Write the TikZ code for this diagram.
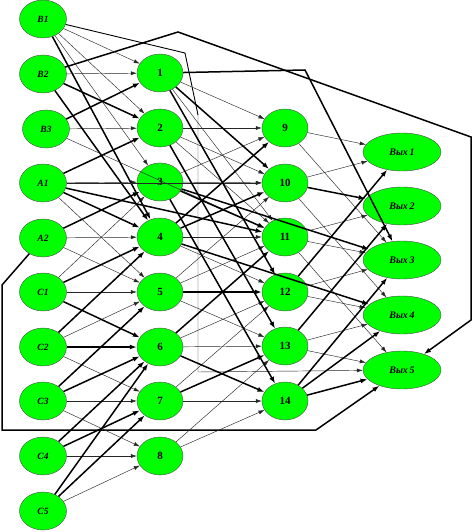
\documentclass[tikz,border=0pt]{standalone}
\usepackage{fontspec}
\setmainfont{Liberation Serif}
\usetikzlibrary{shapes.geometric,arrows.meta}
\begin{document}
\begin{tikzpicture}[x=1pt,y=-1pt,
  nd/.style={ellipse,draw=black!70,line width=0.4pt,fill=green,minimum width=47pt,minimum height=38pt,inner sep=0pt},
  od/.style={nd,minimum width=78pt},
  lt/.style={font=\itshape\bfseries\fontsize{9.5}{9.5}\selectfont},
  mt/.style={font=\bfseries\fontsize{11}{11}\selectfont},
  ot/.style={font=\itshape\bfseries\fontsize{10}{10}\selectfont},
  tn/.style={line width=0.45pt,draw=black!85,-{Latex[length=6pt,width=4pt]}},
  tk/.style={line width=1.5pt,-{Latex[length=7pt,width=5pt]}},
]
\useasboundingbox (0,0) rectangle (471,532);
% left column
\node[nd,lt] (L1) at (43,19) {В1};
\node[nd,lt] (L2) at (43,74) {В2};
\node[nd,lt] (L3) at (46,129) {В3};
\node[nd,lt] (L4) at (43,183) {А1};
\node[nd,lt] (L5) at (43,238) {А2};
\node[nd,lt] (L6) at (43,292) {С1};
\node[nd,lt] (L7) at (43,347) {С2};
\node[nd,lt] (L8) at (43,401) {С3};
\node[nd,lt] (L9) at (43,456) {С4};
\node[nd,lt] (L10) at (43,511) {С5};
% first hidden column
\foreach \i/\y in {1/73,2/128,3/182,4/237,5/292,6/347,7/401,8/456}
  \node[nd,mt,minimum width=46pt] (m\i) at (160,\y) {\i};
% second hidden column
\foreach \i/\y in {9/128,10/183,11/237,12/292,13/346,14/401}
  \node[nd,mt,minimum width=46pt] (m\i) at (285,\y) {\i};
% outputs
\foreach \i/\y in {1/152,2/206,3/260,4/315,5/370}
  \node[od,ot] (o\i) at (402,\y) {Вых\,\i};
% bend coordinates
\coordinate (b1) at (178,32);
\coordinate (b2) at (471,137);
\coordinate (b3) at (471,320);
\coordinate (b4) at (305,70);
\coordinate (b5) at (2,285);
\coordinate (b6) at (2,430);
\coordinate (b7) at (316,430);
\coordinate (b8) at (185,53);
\coordinate (b9) at (198,115);
\coordinate (b10) at (198,372);
% long routed connectors
\draw[tk] (L2) -- (b1) -- (b2) -- (b3) -- (o5);
\draw[tk] (m1) -- (b4) -- (o3);
\draw[tk] (L5) -- (b5) -- (b6) -- (b7) -- (o5);
\draw[line width=0.9pt] (L1) -- (b8) -- (b9);
\draw[tn] (b9) -- (b10) -- (o5);
% left -> first hidden
\foreach \s/\t in {L1/m1,L1/m2,L1/m3,L2/m1,L3/m2,L4/m3,L4/m5,L5/m4,L5/m5,L6/m3,L6/m5,L7/m5,L7/m7,L8/m7,L8/m8,L9/m8,L10/m8}
  \draw[tn] (\s) -- (\t);
\foreach \s/\t in {L1/m4,L2/m2,L2/m4,L3/m1,L4/m2,L4/m4,L5/m3,L6/m4,L6/m6,L7/m4,L7/m6,L8/m5,L8/m6,L9/m6,L9/m7,L10/m6,L10/m7}
  \draw[tk] (\s) -- (\t);
% left -> second hidden
\draw[tk] (L4) -- (m11);
\draw[tn] (L4) -- (m10);
\draw[tn] (L3) -- (m11);
% first hidden -> second hidden
\foreach \s/\t in {m1/m9,m1/m11,m2/m9,m2/m10,m2/m11,m3/m9,m3/m10,m4/m11,m4/m12,m5/m10,m5/m11,m5/m13,m6/m12,m6/m13,m7/m12,m7/m14,m8/m13,m8/m14}
  \draw[tn] (\s) -- (\t);
\foreach \s/\t in {m1/m10,m1/m12,m2/m13,m3/m11,m3/m14,m4/m9,m4/m10,m5/m12,m6/m11,m6/m14,m7/m13}
  \draw[tk] (\s) -- (\t);
% second hidden -> outputs
\foreach \s/\t in {m9/o1,m9/o3,m10/o1,m10/o4,m11/o2,m11/o3,m11/o5,m12/o3,m12/o4,m13/o4,m13/o5}
  \draw[tn] (\s) -- (\t);
\foreach \s/\t in {m10/o2,m12/o1,m13/o2,m14/o3,m14/o4,m14/o5}
  \draw[tk] (\s) -- (\t);
\draw[tk] (m3) -- (o3);
\draw[tk] (m4) -- (o4);
\end{tikzpicture}
\end{document}
